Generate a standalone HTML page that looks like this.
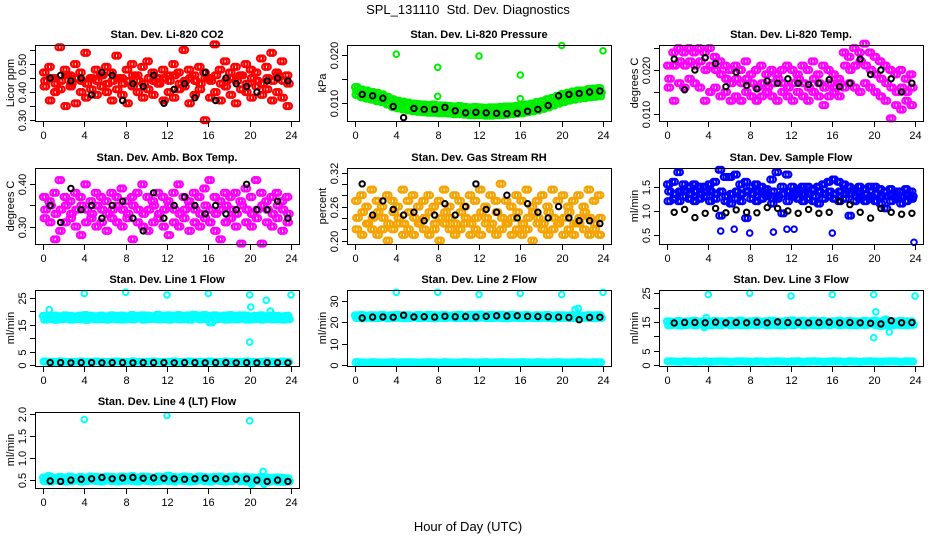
<!DOCTYPE html>
<html><head><meta charset="utf-8"><style>
html,body{margin:0;padding:0;background:#fff}
svg{display:block;font-family:"Liberation Sans",Arial,sans-serif}
</style></head><body>
<svg id="chart" width="936" height="540" viewBox="0 0 936 540">
<text x="468" y="14" text-anchor="middle" font-size="13">SPL_131110&#160; Std. Dev. Diagnostics</text>
<text x="468" y="531" text-anchor="middle" font-size="13">Hour of Day (UTC)</text>
</svg>
<script>
// ---- data ----
const xTicks=[0,4,8,12,16,20,24];
// P1 CO2
const co2Hi=[0.47,0.49,0.45,0.56,0.48,0.46,0.50,0.47,0.54,0.45,0.48,0.46,0.49,0.47,0.53,0.45,0.48,0.50,0.46,0.49,0.51,0.47,0.45,0.48,0.46,0.50,0.47,0.55,0.48,0.46,0.49,0.47,0.45,0.57,0.48,0.51,0.47,0.49,0.46,0.50,0.48,0.47,0.52,0.49,0.54,0.47,0.51,0.46];
const co2Mid=[0.44,0.45,0.43,0.44,0.46,0.43,0.45,0.44,0.43,0.45,0.44,0.46,0.43,0.44,0.45,0.43,0.44,0.46,0.44,0.43,0.45,0.44,0.43,0.45,0.44,0.46,0.43,0.44,0.45,0.44,0.43,0.45,0.44,0.46,0.43,0.44,0.45,0.44,0.46,0.43,0.45,0.44,0.43,0.45,0.44,0.46,0.44,0.43];
const co2Lo=[0.42,0.37,0.40,0.41,0.35,0.42,0.36,0.40,0.38,0.41,0.39,0.42,0.40,0.37,0.41,0.39,0.36,0.42,0.40,0.38,0.41,0.39,0.43,0.37,0.40,0.38,0.41,0.42,0.36,0.39,0.41,0.30,0.38,0.40,0.37,0.42,0.39,0.36,0.41,0.40,0.38,0.42,0.39,0.41,0.37,0.40,0.38,0.35];
const co2Black=[0.45,0.46,0.44,0.45,0.39,0.47,0.46,0.37,0.43,0.42,0.46,0.36,0.41,0.43,0.38,0.47,0.37,0.45,0.43,0.42,0.40,0.44,0.45,0.44];
// P2 pressure
const presHi=[0.0133,0.0128,0.0126,0.0123,0.0121,0.0118,0.0113,0.0108,0.0105,0.0103,0.0101,0.0099,0.0098,0.0097,0.0096,0.0097,0.0095,0.0095,0.0094,0.0093,0.0094,0.0092,0.0091,0.0092,0.0091,0.0090,0.0091,0.0091,0.0092,0.0093,0.0093,0.0094,0.0096,0.0097,0.0099,0.0102,0.0104,0.0108,0.0111,0.0115,0.0119,0.0121,0.0124,0.0126,0.0126,0.0129,0.0130,0.0131];
const presMid=[0.0125,0.0120,0.0117,0.0115,0.0112,0.0110,0.0105,0.0100,0.0097,0.0095,0.0093,0.0091,0.0090,0.0089,0.0088,0.0088,0.0087,0.0087,0.0086,0.0085,0.0085,0.0084,0.0083,0.0083,0.0083,0.0082,0.0082,0.0083,0.0083,0.0084,0.0085,0.0086,0.0087,0.0089,0.0091,0.0093,0.0096,0.0099,0.0103,0.0107,0.0110,0.0113,0.0115,0.0117,0.0118,0.0120,0.0121,0.0122];
const presLo=[0.0117,0.0112,0.0109,0.0107,0.0104,0.0102,0.0097,0.0092,0.0089,0.0087,0.0085,0.0083,0.0082,0.0081,0.0080,0.0080,0.0079,0.0079,0.0078,0.0077,0.0077,0.0076,0.0075,0.0075,0.0075,0.0074,0.0074,0.0075,0.0075,0.0076,0.0077,0.0078,0.0079,0.0081,0.0083,0.0085,0.0088,0.0091,0.0095,0.0099,0.0102,0.0105,0.0107,0.0109,0.0110,0.0112,0.0113,0.0114];
const presOutT=[4,8,8,12,16,16,20,24];
const presOutV=[0.0201,0.0174,0.0114,0.0197,0.0158,0.0109,0.0219,0.0208];
const presBlack=[0.0118,0.0115,0.0110,0.0093,0.0070,0.0089,0.0087,0.0087,0.0091,0.0084,0.0080,0.0081,0.0080,0.0079,0.0078,0.0079,0.0083,0.0087,0.0095,0.0115,0.0118,0.0120,0.0123,0.0125];
// P3 Li-820 temp
const tmpHi=[0.021,0.024,0.025,0.024,0.025,0.024,0.025,0.024,0.025,0.023,0.022,0.021,0.020,0.021,0.020,0.022,0.019,0.020,0.021,0.019,0.020,0.019,0.020,0.021,0.020,0.019,0.021,0.020,0.022,0.019,0.021,0.020,0.019,0.018,0.024,0.023,0.025,0.024,0.026,0.024,0.023,0.022,0.021,0.020,0.019,0.020,0.018,0.019];
const tmpMid=[0.018,0.021,0.022,0.021,0.022,0.021,0.022,0.020,0.021,0.020,0.019,0.018,0.017,0.018,0.017,0.018,0.017,0.016,0.017,0.016,0.017,0.018,0.017,0.016,0.017,0.018,0.017,0.016,0.018,0.017,0.016,0.017,0.016,0.017,0.021,0.020,0.021,0.022,0.021,0.020,0.019,0.018,0.017,0.016,0.015,0.016,0.015,0.016];
const tmpLo=[0.016,0.013,0.017,0.016,0.018,0.017,0.016,0.013,0.015,0.016,0.014,0.015,0.013,0.014,0.013,0.015,0.014,0.013,0.014,0.015,0.014,0.013,0.015,0.014,0.013,0.015,0.014,0.013,0.015,0.014,0.012,0.014,0.015,0.014,0.016,0.017,0.016,0.015,0.017,0.016,0.015,0.014,0.013,0.009,0.012,0.011,0.013,0.012];
const tmpBlack=[0.0225,0.0155,0.020,0.0228,0.0215,0.0162,0.0195,0.0165,0.0157,0.0175,0.0170,0.0180,0.0170,0.0167,0.0170,0.0178,0.0162,0.0170,0.0225,0.019,0.020,0.018,0.015,0.017];
// P4 ambient box temp
const ambHi=[0.37,0.36,0.38,0.41,0.37,0.36,0.38,0.37,0.40,0.36,0.38,0.37,0.36,0.38,0.37,0.39,0.36,0.37,0.38,0.40,0.37,0.36,0.38,0.37,0.36,0.38,0.40,0.37,0.36,0.38,0.37,0.39,0.41,0.37,0.36,0.38,0.37,0.38,0.36,0.39,0.37,0.41,0.38,0.36,0.37,0.38,0.36,0.37];
const ambMid=[0.34,0.35,0.33,0.34,0.35,0.33,0.34,0.35,0.34,0.33,0.35,0.34,0.33,0.34,0.35,0.34,0.33,0.35,0.34,0.33,0.34,0.35,0.33,0.34,0.35,0.34,0.33,0.34,0.35,0.34,0.33,0.35,0.34,0.33,0.34,0.35,0.34,0.33,0.35,0.34,0.33,0.34,0.35,0.34,0.33,0.35,0.34,0.33];
const ambLo=[0.32,0.31,0.27,0.29,0.31,0.32,0.30,0.28,0.31,0.32,0.30,0.31,0.29,0.32,0.31,0.30,0.32,0.27,0.31,0.30,0.29,0.31,0.32,0.30,0.28,0.31,0.30,0.32,0.29,0.31,0.30,0.32,0.31,0.29,0.27,0.31,0.32,0.30,0.26,0.31,0.30,0.32,0.26,0.31,0.30,0.32,0.29,0.31];
const ambBlack=[0.35,0.31,0.39,0.34,0.35,0.32,0.35,0.36,0.32,0.29,0.38,0.32,0.35,0.37,0.35,0.33,0.35,0.33,0.34,0.40,0.34,0.34,0.36,0.32];
// P5 gas stream RH
const rhHi=[0.27,0.28,0.26,0.29,0.27,0.26,0.28,0.27,0.26,0.29,0.27,0.28,0.26,0.27,0.28,0.26,0.27,0.29,0.26,0.28,0.27,0.26,0.28,0.27,0.29,0.26,0.28,0.27,0.30,0.27,0.26,0.28,0.27,0.29,0.26,0.27,0.28,0.26,0.29,0.27,0.28,0.26,0.27,0.28,0.26,0.29,0.27,0.28];
const rhMid=[0.24,0.25,0.23,0.24,0.25,0.24,0.23,0.25,0.24,0.23,0.25,0.24,0.23,0.24,0.25,0.23,0.24,0.25,0.24,0.23,0.25,0.24,0.23,0.24,0.25,0.24,0.23,0.25,0.24,0.23,0.24,0.25,0.23,0.24,0.25,0.24,0.23,0.25,0.24,0.23,0.24,0.25,0.23,0.24,0.25,0.24,0.23,0.24];
const rhLo=[0.22,0.21,0.23,0.22,0.21,0.22,0.20,0.22,0.23,0.21,0.22,0.21,0.23,0.22,0.21,0.22,0.20,0.23,0.22,0.21,0.22,0.23,0.21,0.22,0.21,0.23,0.22,0.21,0.22,0.23,0.21,0.22,0.21,0.22,0.20,0.23,0.22,0.21,0.22,0.23,0.21,0.22,0.21,0.23,0.22,0.21,0.22,0.21];
const rhBlack=[0.30,0.245,0.27,0.255,0.245,0.25,0.235,0.245,0.265,0.245,0.26,0.30,0.255,0.25,0.28,0.24,0.265,0.25,0.24,0.26,0.24,0.235,0.235,0.23];
// P6 sample flow
const sfHi=[1.55,1.6,1.8,1.55,1.5,1.55,1.5,1.5,1.55,1.6,1.85,1.7,1.7,1.75,1.55,1.6,1.5,1.55,1.5,1.45,1.65,1.8,1.5,1.75,1.5,1.45,1.5,1.5,1.45,1.5,1.55,1.6,1.65,1.6,1.55,1.5,1.45,1.5,1.45,1.5,1.5,1.45,1.4,1.45,1.4,1.4,1.45,1.4];
const sfMid=[1.4,1.35,1.4,1.4,1.35,1.4,1.35,1.4,1.4,1.35,1.4,1.3,1.35,1.4,1.35,1.4,1.35,1.4,1.4,1.35,1.4,1.3,1.35,1.4,1.35,1.4,1.35,1.35,1.3,1.4,1.35,1.4,1.35,1.4,1.35,1.35,1.4,1.3,1.35,1.3,1.35,1.3,1.3,1.35,1.3,1.3,1.35,1.3];
const sfLo=[1.2,1.25,1.2,1.3,1.25,1.2,1.25,1.3,1.2,1.25,0.9,1.2,1.15,1.25,1.2,0.85,1.25,1.2,1.25,1.3,1.15,1.25,0.95,1.2,1.3,1.25,1.2,1.25,1.2,1.15,1.25,1.3,1.25,1.2,1.25,0.9,1.2,1.25,1.2,1.25,1.2,1.15,1.05,1.2,1.25,1.15,1.2,1.25];
const sfOutT=[5.2,6.5,8,10.3,11.6,12.3,16,23.9];
const sfOutV=[0.58,0.62,0.54,0.56,0.62,0.62,0.54,0.35];
const sfBlack=[0.97,1.03,0.86,0.95,1.05,0.96,1.02,0.97,0.96,1.07,1.05,1.0,0.95,1.03,0.95,0.97,1.2,1.13,0.97,0.85,1.05,0.97,0.93,0.95];
// Flow low band (lines 1-3)
const flowLowBand=[1.3,1.2,1.1,1.3,1.2,1.1,1.2,1.3,1.1,1.2,1.3,1.2,1.1,1.2,1.3,1.2,1.1,1.3,1.2,1.1,1.2,1.3,1.2,1.1,1.2,1.3,1.1,1.2,1.3,1.2,1.1,1.2,1.3,1.2,1.1,1.3,1.2,1.1,1.2,1.3,1.2,1.1,1.2,1.3,1.2,1.1,1.3,1.2];
// P7 line 1
const l1Hi=[18.2,18.0,18.3,18.1,18.4,18.2,18.0,18.3,18.5,18.2,18.1,18.3,18.0,18.4,18.2,18.3,18.1,18.5,18.2,18.4,18.3,18.1,18.6,18.2,18.4,18.3,18.5,18.2,18.4,18.6,18.3,18.5,18.2,18.4,18.1,18.3,18.5,18.2,18.4,18.3,18.0,18.2,18.4,18.1,18.3,18.2,18.0,18.2];
const l1Lo=[16.8,17.0,16.7,16.9,17.1,16.8,17.0,16.9,16.7,17.1,16.9,17.0,16.8,17.1,16.9,16.8,17.0,16.9,17.2,16.8,17.0,17.1,16.9,17.0,16.8,17.1,16.9,17.0,16.8,17.2,16.9,17.0,15.8,16.9,17.1,16.8,17.0,16.9,17.1,16.8,16.9,17.0,16.8,17.1,16.9,17.0,16.8,16.9];
const l1OutT=[0.6,4,8,12,16,20,20.1,20,21.6,22,24];
const l1OutV=[20.5,26.5,27,26,26.5,26,21.5,8.5,24,20,26];
const l1Black=[0.9,0.9,0.8,0.9,0.9,0.8,0.9,0.9,0.8,0.9,0.9,0.9,0.8,0.9,0.9,0.8,0.9,0.9,0.8,0.9,0.8,0.9,0.9,0.8];
// P8 line 2
const l2Hi=[23.2,23.4,23.1,23.3,23.2,23.5,23.1,23.3,23.4,23.2,23.3,23.1,23.4,23.2,23.5,23.3,23.2,23.4,23.1,23.3,23.5,23.2,23.4,23.3,23.6,23.2,23.4,23.3,23.5,23.2,23.4,23.3,23.2,23.4,23.1,23.3,23.2,23.4,23.1,23.3,23.2,23.1,23.3,23.2,23.1,23.3,23.2,23.3];
const l2Lo=[22.0,21.8,22.1,21.9,22.0,22.2,21.8,22.0,22.1,21.9,22.0,22.2,21.9,22.1,22.0,21.8,22.1,22.0,22.2,21.9,22.0,22.1,21.9,22.0,22.2,22.0,21.9,22.1,22.0,21.8,22.1,22.0,21.9,22.1,22.0,21.9,22.1,22.0,21.8,22.0,22.1,21.9,22.0,21.9,22.1,22.0,21.9,22.0];
const l2OutT=[4,8,12,16,20,24,21.3,21.6];
const l2OutV=[34,34,33,33.5,33,34,26,26.5];
const l2Black=[22.0,22.4,22.5,22.3,23.3,22.5,22.6,22.4,22.8,22.6,22.7,22.5,22.8,23.0,22.9,23.0,22.8,22.7,22.6,22.4,22.2,21.2,22.2,22.3];
// P9 line 3
const l3Hi=[15.2,15.0,15.3,15.1,15.2,15.4,15.1,15.2,15.0,15.3,15.2,15.1,15.3,15.2,15.4,15.1,15.2,15.3,15.1,15.2,15.4,15.2,15.1,15.3,15.5,15.2,15.3,15.1,15.4,15.2,15.3,15.1,15.2,15.4,15.1,15.3,15.2,15.1,15.3,15.2,15.4,15.1,15.6,15.2,15.1,15.3,15.2,15.1];
const l3Lo=[13.8,14.0,13.7,13.9,14.0,13.8,14.1,13.9,13.8,14.0,13.9,14.1,13.8,14.0,13.9,13.8,14.0,13.9,14.1,13.8,14.0,13.9,13.8,14.0,13.9,14.1,13.8,14.0,13.9,13.8,14.0,13.9,14.1,13.8,14.0,13.9,13.8,14.0,13.9,14.1,13.8,13.6,13.9,13.8,14.0,13.9,13.8,14.0];
const l3OutT=[4,8,12,16,20,20.2,20,21.5,21.2,3.8,3.6,24];
const l3OutV=[24.5,25,24,24.5,24.5,18.5,9.5,11.5,16,16.5,13,24];
const l3Black=[14.6,14.8,14.8,14.7,14.9,14.7,14.8,14.7,14.9,14.7,15.0,14.8,14.8,14.7,14.8,14.9,14.7,14.8,14.7,14.5,14.3,15.4,14.7,14.8];
// P10 line 4
const l4Hi=[0.56,0.58,0.55,0.57,0.56,0.58,0.55,0.57,0.56,0.58,0.57,0.56,0.58,0.57,0.56,0.58,0.57,0.59,0.56,0.58,0.57,0.56,0.58,0.57,0.60,0.57,0.56,0.58,0.57,0.56,0.58,0.57,0.56,0.57,0.58,0.56,0.57,0.58,0.56,0.57,0.56,0.55,0.57,0.56,0.55,0.56,0.55,0.54];
const l4Lo=[0.48,0.47,0.49,0.48,0.47,0.48,0.49,0.47,0.48,0.49,0.48,0.47,0.49,0.48,0.47,0.48,0.49,0.48,0.47,0.49,0.48,0.47,0.48,0.49,0.48,0.47,0.49,0.48,0.47,0.48,0.49,0.48,0.47,0.49,0.48,0.47,0.48,0.49,0.48,0.47,0.46,0.48,0.47,0.46,0.48,0.47,0.46,0.47];
const l4OutT=[4,12,20,21.3,20.2,21.4,0.5];
const l4OutV=[1.88,1.97,1.85,0.70,0.40,0.40,0.60];
const l4Black=[0.48,0.47,0.50,0.52,0.53,0.56,0.53,0.55,0.56,0.54,0.55,0.54,0.53,0.52,0.53,0.54,0.53,0.53,0.52,0.53,0.50,0.47,0.50,0.47];

// ---- layout ----
const NS="http://www.w3.org/2000/svg";
const svg=document.getElementById('chart');
const colLeft=[35,347,659], rowTop=[45,168,290,412], PW=264, PH=76;
function mk(tag,attrs,parent){const e=document.createElementNS(NS,tag);for(const k in attrs)e.setAttribute(k,attrs[k]);parent.appendChild(e);return e;}

function drawPanel(p){
  const L=colLeft[p.col], T=rowTop[p.row];
  const g=mk('g',{},svg);
  
  
  const xs=t=>L+8+t*248/24;
  const ys=v=>T+PH-(v-p.ymin)/(p.ymax-p.ymin)*PH;
  const tt=mk('text',{x:L+PW/2,y:T-7,'text-anchor':'middle','font-size':11,'font-weight':'bold'},g);
  tt.textContent=p.title;
  
  
  const pts=mk('g',{fill:'none'},g);
  
  
  p.series.forEach(s=>{
    const offs=s.offsets||[0];
    offs.forEach(o=>{
      s.vals.forEach((v,i)=>{
        const t=s.times?s.times[i]:(s.t0+o+i*s.step);
        if(t>24.3) return;
        const c=mk('circle',{cx:xs(t).toFixed(1),cy:ys(v).toFixed(1),r:s.r||2.7,stroke:s.color,'stroke-width':s.sw||1.7},pts);
        
        
      });
    });
  });
  const box=mk('rect',{x:L+0.5,y:T+0.5,width:PW,height:PH,fill:'none',stroke:'#000','stroke-width':1},g);
  
  
  const xa=mk('g',{},g);
  
  
  xTicks.forEach(t=>{
    const x=Math.round(xs(t))+0.5;
    mk('line',{x1:x,x2:x,y1:T+PH+1,y2:T+PH+6,stroke:'#000'},xa);
    const lb=mk('text',{x:x,y:T+PH+18,'text-anchor':'middle','font-size':11},xa);
    lb.textContent=t;
    
    
  });
  const ya=mk('g',{},g);
  
  
  p.yticks.forEach((v,i)=>{
    const y=Math.round(ys(v))+0.5;
    mk('line',{x1:L-5,x2:L,y1:y,y2:y,stroke:'#000'},ya);
    if(p.ylabels[i]){
      const lb=mk('text',{x:L-9,y:y,'text-anchor':'middle','font-size':11,transform:`rotate(-90 ${L-9} ${y})`},ya);
      lb.textContent=p.ylabels[i];
      
      
    }
  });
  const yt=mk('text',{x:L-21,y:T+PH/2,'text-anchor':'middle','font-size':11,transform:`rotate(-90 ${L-21} ${T+PH/2})`},g);
  yt.textContent=p.ylab;
  
  
}

const RED='#ff0000',GRN='#00ee00',MAG='#ff00ff',ORG='#f5a300',BLU='#0000ff',CYN='#00ffff',BLK='#000000';
function cloud(hi,mid,lo,col){return [
  {vals:hi,t0:0.0,step:0.5,offsets:[0,0.25],color:col,label:'cloud-point',r:3,sw:2.2},
  {vals:mid,t0:0.12,step:0.5,offsets:[0,0.25],color:col,label:'cloud-point',r:3,sw:2.2},
  {vals:lo,t0:0.06,step:0.5,offsets:[0,0.25],color:col,label:'cloud-point',r:3,sw:2.2}];}
function blk(v){return {vals:v,t0:0.7,step:1,color:BLK,label:'hourly-point',r:2.7,sw:2};}
function outl(t,v,col){return {vals:v,times:t,color:col,label:'outlier-point',r:2.8,sw:2};}

const panels=[
 {name:'panel-co2',col:0,row:0,title:'Stan. Dev. Li-820 CO2',ylab:'Licor ppm',ymin:0.297,ymax:0.568,
  yticks:[0.30,0.35,0.40,0.45,0.50,0.55],ylabels:['0.30','','0.40','','0.50',''],
  series:[...cloud(co2Hi,co2Mid,co2Lo,RED),blk(co2Black)]},
 {name:'panel-pressure',col:1,row:0,title:'Stan. Dev. Li-820 Pressure',ylab:'kPa',ymin:0.0063,ymax:0.0220,
  yticks:[0.010,0.015,0.020],ylabels:['0.010','','0.020'],
  series:[...cloud(presHi,presMid,presLo,GRN),outl(presOutT,presOutV,GRN),blk(presBlack)]},
 {name:'panel-li820-temp',col:2,row:0,title:'Stan. Dev. Li-820 Temp.',ylab:'degrees C',ymin:0.0084,ymax:0.0257,
  yticks:[0.010,0.015,0.020,0.025],ylabels:['0.010','','0.020',''],
  series:[...cloud(tmpHi,tmpMid,tmpLo,MAG),blk(tmpBlack)]},
 {name:'panel-amb-box-temp',col:0,row:1,title:'Stan. Dev. Amb. Box Temp.',ylab:'degrees C',ymin:0.259,ymax:0.4385,
  yticks:[0.30,0.35,0.40],ylabels:['0.30','','0.40'],
  series:[...cloud(ambHi,ambMid,ambLo,MAG),blk(ambBlack)]},
 {name:'panel-gas-rh',col:1,row:1,title:'Stan. Dev. Gas Stream RH',ylab:'percent',ymin:0.194,ymax:0.328,
  yticks:[0.20,0.22,0.24,0.26,0.28,0.30,0.32],ylabels:['0.20','','','0.26','','','0.32'],
  series:[...cloud(rhHi,rhMid,rhLo,ORG),blk(rhBlack)]},
 {name:'panel-sample-flow',col:2,row:1,title:'Stan. Dev. Sample Flow',ylab:'ml/min',ymin:0.314,ymax:1.887,
  yticks:[0.5,1.0,1.5],ylabels:['0.5','1.0','1.5'],
  series:[...cloud(sfHi,sfMid,sfLo,BLU),outl(sfOutT,sfOutV,BLU),blk(sfBlack)]},
 {name:'panel-line1-flow',col:0,row:2,title:'Stan. Dev. Line 1 Flow',ylab:'ml/min',ymin:-0.37,ymax:27.8,
  yticks:[0,5,10,15,20,25],ylabels:['0','5','','15','','25'],
  series:[...cloud(l1Hi,l1Lo,flowLowBand,CYN),outl(l1OutT,l1OutV,CYN),blk(l1Black)]},
 {name:'panel-line2-flow',col:1,row:2,title:'Stan. Dev. Line 2 Flow',ylab:'ml/min',ymin:-0.5,ymax:35.1,
  yticks:[0,10,20,30],ylabels:['0','10','20','30'],
  series:[...cloud(l2Hi,l2Lo,flowLowBand,CYN),outl(l2OutT,l2OutV,CYN),blk(l2Black)]},
 {name:'panel-line3-flow',col:2,row:2,title:'Stan. Dev. Line 3 Flow',ylab:'ml/min',ymin:-0.35,ymax:26.1,
  yticks:[0,5,10,15,20,25],ylabels:['0','5','','15','','25'],
  series:[...cloud(l3Hi,l3Lo,flowLowBand,CYN),outl(l3OutT,l3OutV,CYN),blk(l3Black)]},
 {name:'panel-line4-flow',col:0,row:3,title:'Stan. Dev. Line 4 (LT) Flow',ylab:'ml/min',ymin:0.32,ymax:2.05,
  yticks:[0.5,1.0,1.5,2.0],ylabels:['0.5','1.0','1.5','2.0'],
  series:[...cloud(l4Hi,l4Lo,l4Lo,CYN),outl(l4OutT,l4OutV,CYN),blk(l4Black)]}
];
panels.forEach(drawPanel);
</script>
</body></html>
